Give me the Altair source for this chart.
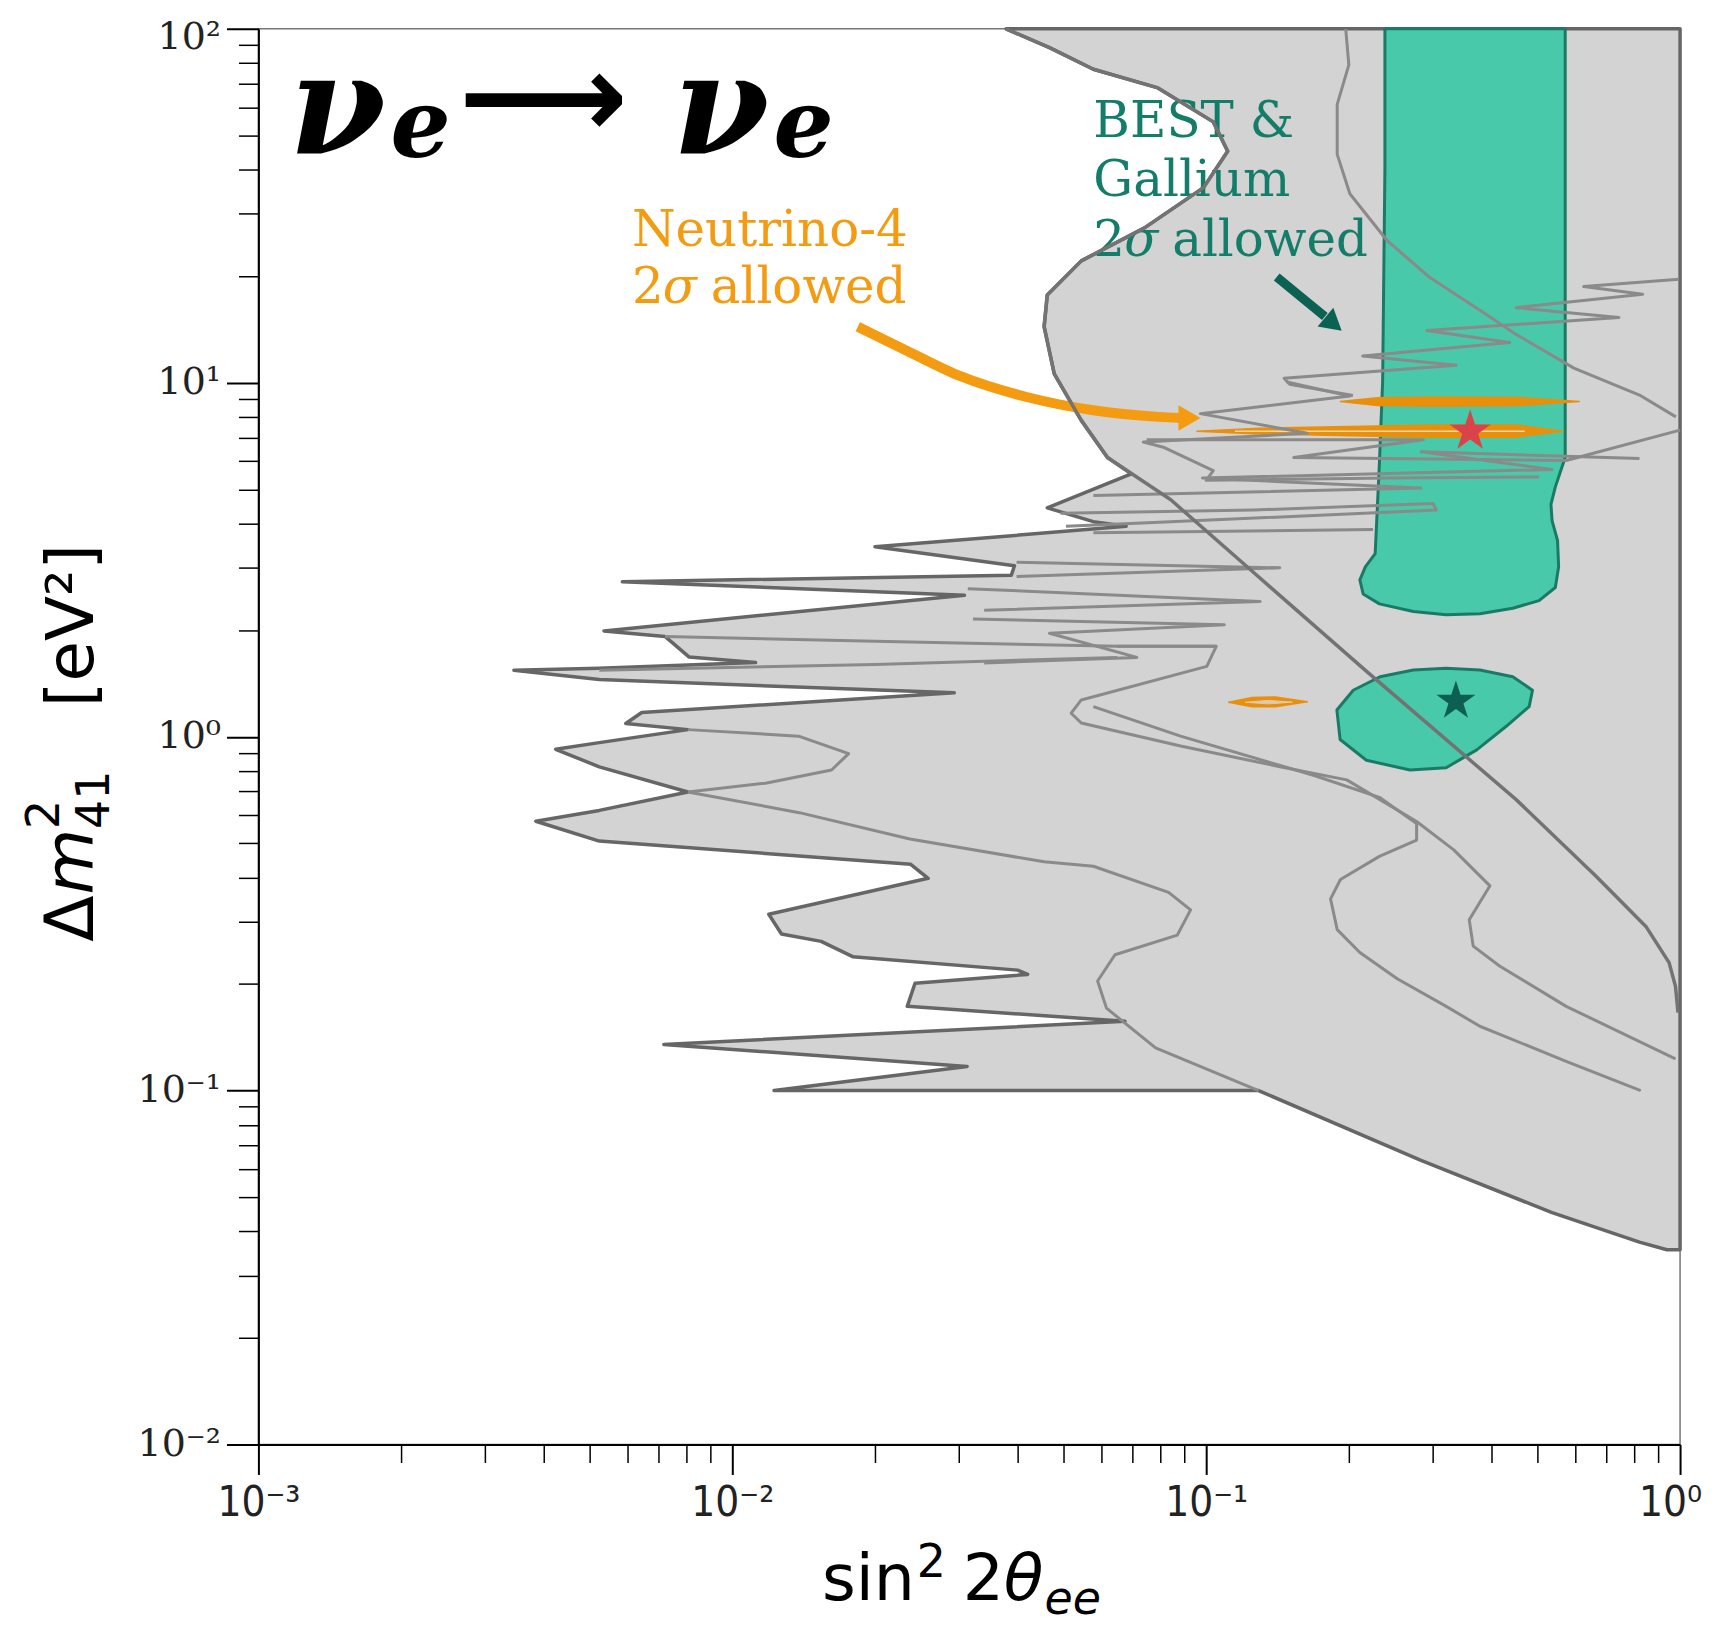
import json
import altair as alt
import pandas as pd

# ---------------- axis ticks ----------------
x_major = [0.001, 0.01, 0.1, 1.0]
x_major_labels = ["10⁻³", "10⁻²", "10⁻¹", "10⁰"]
x_minor = [0.002, 0.003, 0.004, 0.005, 0.006, 0.007, 0.008, 0.009,
           0.02, 0.03, 0.04, 0.05, 0.06, 0.07, 0.08, 0.09,
           0.2, 0.3, 0.4, 0.5, 0.6, 0.7, 0.8, 0.9]
y_major = [0.01, 0.1, 1.0, 10.0, 100.0]
y_major_labels = ["10⁻²", "10⁻¹", "10⁰", "10¹", "10²"]
y_minor = [0.02, 0.03, 0.04, 0.05, 0.06, 0.07, 0.08, 0.09,
           0.2, 0.3, 0.4, 0.5, 0.6, 0.7, 0.8, 0.9,
           2, 3, 4, 5, 6, 7, 8, 9,
           20, 30, 40, 50, 60, 70, 80, 90]

# ---------------- excluded region (outer boundary) ----------------
excl_x = [0.0378, 0.0467, 0.0578, 0.0791, 0.1035, 0.111, 0.0987, 0.0741, 0.0545, 0.0462,
          0.0455, 0.0478, 0.0545, 0.0619, 0.0695, 0.0462, 0.0578, 0.0678, 0.0200, 0.0394,
          0.0388, 0.00586, 0.0309, 0.00536, 0.00721, 0.0081, 0.0112, 0.00524, 0.00346, 0.00524,
          0.0294, 0.00644, 0.00596, 0.00806, 0.00524, 0.00424, 0.00524, 0.00806, 0.00524, 0.00385,
          0.00524, 0.0238, 0.0259, 0.01194, 0.0127, 0.0154, 0.01795, 0.0400, 0.0420, 0.0243,
          0.0234, 0.0674, 0.00717, 0.0313, 0.01225, 0.129, 0.284, 0.537, 0.821, 0.938,
          1.0, 1.0]
excl_y = [100, 88.5, 76.9, 68.1, 54.6, 45.1, 35.6, 27.4, 22.1, 17.7,
          14.4, 10.6, 7.83, 6.15, 5.53, 4.43, 4.05, 3.93, 3.44, 3.04,
          2.86, 2.74, 2.51, 1.99, 1.92, 1.68, 1.62, 1.56, 1.54, 1.45,
          1.33, 1.17, 1.09, 1.047, 0.962, 0.921, 0.822, 0.698, 0.619, 0.577,
          0.507, 0.436, 0.398, 0.315, 0.277, 0.264, 0.239, 0.219, 0.213, 0.201,
          0.173, 0.157, 0.135, 0.117, 0.1, 0.1, 0.0635, 0.0452, 0.0373, 0.0355,
          0.0355, 100]

# dark S-shaped limit curve
a_x = [0.0378, 0.0467, 0.0578, 0.0791, 0.1035, 0.111, 0.0987, 0.0741, 0.0545, 0.0462, 0.0455,
       0.0478, 0.0545, 0.0619, 0.0842, 0.122, 0.218, 0.451, 0.664, 0.847, 0.948, 0.978, 0.99]
a_y = [100, 88.5, 76.9, 68.1, 54.6, 45.1, 35.6, 27.4, 22.1, 17.7, 14.4,
       10.6, 7.83, 6.15, 4.67, 3.02, 1.53, 0.664, 0.404, 0.291, 0.230, 0.197, 0.166]

# lighter interior contours
b_x = [0.197, 0.200, 0.189, 0.189, 0.201, 0.241, 0.297, 0.379, 0.451, 0.597, 0.821, 0.980]
b_y = [100, 79.1, 61.2, 44.2, 34.2, 25.2, 19.8, 16.0, 13.7, 11.0, 9.23, 8.01]
z1_x = [0.994, 0.626, 0.834, 0.451, 0.743, 0.292, 0.437, 0.214, 0.337, 0.146, 0.150, 0.204]
z1_y = [19.6, 18.7, 17.8, 16.3, 15.3, 14.05, 13.0, 11.9, 11.2, 10.3, 9.9, 9.2]
z2_x = [0.148, 0.201, 0.0972, 0.1635, 0.0737, 0.0816, 0.1035, 0.100, 0.245, 0.504]
z2_y = [10.05, 9.17, 8.18, 7.20, 6.80, 6.56, 5.65, 5.30, 5.38, 5.42]
z3_x = [1.0, 0.575, 0.153, 0.287, 0.0749]
z3_y = [7.35, 6.03, 6.15, 6.90, 6.90]
z4_x = [0.821, 0.284, 0.537, 0.0982, 0.284, 0.0578]
z4_y = [6.11, 6.38, 5.69, 5.38, 5.04, 4.80]
z5_x = [0.0322, 0.1092, 0.0467, 0.0714, 0.034]
z5_y = [2.15, 2.07, 1.96, 1.675, 1.615]
e_x = [0.0493, 0.126, 0.301, 0.306, 0.0753, 0.0506]
e_y = [4.28, 4.37, 4.56, 4.37, 4.02, 3.93]
f_x = [0.0578, 0.225]
f_y = [3.77, 3.85]
g_x = [0.0398, 0.143, 0.0398]
g_y = [3.11, 3.00, 2.835]
h_x = [0.0314, 0.130, 0.034]
h_y = [2.62, 2.41, 2.275]
m1_x = [0.00721, 0.0200, 0.0649, 0.105]
m1_y = [1.92, 1.86, 1.80, 1.80]
m2_x = [0.00524, 0.0200, 0.0649]
m2_y = [1.54, 1.60, 1.675]
m3_x = [0.00806, 0.0138, 0.0176, 0.0162, 0.01175, 0.00806]
m3_y = [1.047, 1.0035, 0.896, 0.805, 0.739, 0.698]
l1_x = [0.00806, 0.01385, 0.0237, 0.0455, 0.0578, 0.0833, 0.0927, 0.0869, 0.0642, 0.059, 0.0616, 0.0782, 0.129]
l1_y = [0.698, 0.610, 0.514, 0.443, 0.4305, 0.363, 0.324, 0.275, 0.242, 0.204, 0.171, 0.132, 0.1]
l3_x = [0.0578, 0.0883, 0.169, 0.232, 0.278, 0.278, 0.232, 0.192, 0.183, 0.189, 0.211, 0.253, 0.321, 0.378, 0.575, 0.826]
l3_y = [1.216, 1.0035, 0.777, 0.674, 0.568, 0.5105, 0.459, 0.395, 0.348, 0.285, 0.2455, 0.207, 0.173, 0.152, 0.121, 0.100]
l5_x = [0.0649, 0.105, 0.1003, 0.0545, 0.0519, 0.0545, 0.0883, 0.1432, 0.198, 0.278, 0.333, 0.397, 0.359, 0.366, 0.416, 0.575, 0.978]
l5_y = [1.80, 1.80, 1.58, 1.27, 1.165, 1.093, 0.941, 0.8225, 0.755, 0.576, 0.479, 0.379, 0.304, 0.256, 0.225, 0.173, 0.123]

# BEST & Gallium 2 sigma allowed
band_x = [0.2383, 0.2383, 0.2357, 0.232, 0.2285, 0.2273, 0.2167, 0.211, 0.2144, 0.232, 0.2736, 0.3209,
          0.3782, 0.4436, 0.5039, 0.5455, 0.5543, 0.5514, 0.537, 0.534, 0.5455, 0.5602, 0.5723, 0.5723]
band_y = [100, 40, 10.1, 5.90, 3.82, 3.29, 3.02, 2.775, 2.53, 2.373, 2.258, 2.21,
          2.226, 2.306, 2.424, 2.64, 3.02, 3.584, 4.07, 4.53, 5.08, 5.65, 6.15, 100]
blob_x = [0.1887, 0.1917, 0.2178, 0.2693, 0.3209, 0.3723, 0.4298, 0.4803, 0.4882, 0.4436, 0.3782,
          0.3209, 0.2736, 0.2327, 0.2043]
blob_y = [1.190, 0.982, 0.858, 0.805, 0.817, 0.918, 1.070, 1.216, 1.353, 1.477, 1.543,
          1.560, 1.543, 1.477, 1.353]

# Neutrino-4 2 sigma allowed
n4a_x = [0.192, 0.23, 0.30, 0.45, 0.613, 0.45, 0.30, 0.23]
n4a_y = [8.85, 9.07, 9.12, 9.10, 8.85, 8.61, 8.58, 8.63]
n4b_x = [0.0956, 0.13, 0.2, 0.3, 0.45, 0.566, 0.45, 0.3, 0.2, 0.13]
n4b_y = [7.30, 7.44, 7.53, 7.60, 7.60, 7.30, 7.02, 7.02, 7.08, 7.17]
n4c_x = [0.1115, 0.125, 0.14, 0.1635, 0.14, 0.125]
n4c_y = [1.251, 1.29, 1.295, 1.255, 1.215, 1.215]
n4c_in_x = [0.121, 0.135, 0.152, 0.135]
n4c_in_y = [1.251, 1.266, 1.252, 1.238]
n4b_in_x = [0.115, 0.47]
n4b_in_y = [7.30, 7.30]

# best-fit points
star_x = [0.3606, 0.3365]
star_y = [7.30, 1.26]
star_col = ["#d9434a", "#0c5f52"]
star_size = [1900, 1700]

# annotation arrows
oarrow_x = [0.0184, 0.0234, 0.0305, 0.0420, 0.0578, 0.0794, 0.0883]
oarrow_y = [14.4, 12.3, 10.4, 9.10, 8.36, 8.01, 7.95]
tarrow_x = [0.1409, 0.1626, 0.1780]
tarrow_y = [19.9, 17.0, 15.4]
head_x = [0.0922, 0.1857]
head_y = [7.95, 14.66]

# texts
title_txt = ["ν", "e", "ν", "e"]
title_x = [0.00116, 0.0019, 0.00748, 0.01221]
title_y = [44.25, 43.4, 44.25, 43.4]
title_size = [140, 95, 140, 95]
n4_lines = ["Neutrino-4", "2", "σ", "allowed"]
best_lines = ["BEST &", "Gallium", "2", "σ", "allowed"]

# ---------------- chart ----------------
XS = alt.Scale(type="log", domain=[0.001, 1.0], nice=False)
YS = alt.Scale(type="log", domain=[0.01, 100.0], nice=False)


def xenc(axis=None):
    return alt.X("x:Q", scale=XS, axis=axis)


def yenc(axis=None):
    return alt.Y("y:Q", scale=YS, axis=axis)


def path(name, xs, ys):
    return pd.DataFrame({"id": [name] * len(xs), "i": list(range(len(xs))), "x": xs, "y": ys})


x_axis_major = alt.Axis(
    values=x_major,
    labelExpr=json.dumps(x_major_labels, ensure_ascii=False) + "[round(log(datum.value)/LN10) + 3]",
    orient="bottom", tickSize=30, tickWidth=2, tickColor="black", domainColor="black", domainWidth=2,
    labelFont="DejaVu Sans Condensed, DejaVu Sans", labelFontSize=42, labelColor="#222222",
    labelPadding=8, labelFlush=False, labelOverlap=False, grid=False, title=None,
    labelOffset={"condition": {"test": "datum.value >= 0.99", "value": -10}, "value": 0})
x_axis_minor = alt.Axis(values=x_minor, labels=False, orient="bottom", tickSize=18, tickWidth=1.5,
                        tickColor="black", domain=False, grid=False, title=None)
y_axis_major = alt.Axis(
    values=y_major,
    labelExpr=json.dumps(y_major_labels, ensure_ascii=False) + "[round(log(datum.value)/LN10) + 2]",
    orient="left", tickSize=32, tickWidth=2, tickColor="black", domainColor="black", domainWidth=2,
    labelFont="DejaVu Serif", labelFontSize=38, labelColor="#222222", labelPadding=6,
    labelBaseline="middle", labelFlush=False, labelOverlap=False, grid=False, title=None,
    labelOffset={"condition": {"test": "datum.value >= 99", "value": 9}, "value": 0})
y_axis_minor = alt.Axis(values=y_minor, labels=False, orient="left", tickSize=20, tickWidth=1.5,
                        tickColor="black", domain=False, grid=False, title=None)

layers = []

layers.append(
    alt.Chart(path("excl", excl_x, excl_y)).mark_line(
        fill="#d3d3d3", stroke="#666666", strokeWidth=3.5, interpolate="linear-closed", strokeJoin="round"
    ).encode(x=xenc(x_axis_major), y=yenc(y_axis_major), order="i:Q")
)
layers.append(
    alt.Chart(pd.DataFrame({"x": [0.001], "y": [0.01]})).mark_point(opacity=0)
    .encode(x=xenc(x_axis_minor), y=yenc(y_axis_minor))
)
teal_df = pd.concat([path("band", band_x, band_y), path("blob", blob_x, blob_y)])
layers.append(
    alt.Chart(teal_df).mark_line(
        fill="#48c9a9", stroke="#1b7a66", strokeWidth=3, interpolate="linear-closed", strokeJoin="round"
    ).encode(x=xenc(), y=yenc(), order="i:Q", detail="id:N")
)
orange_df = pd.concat([path("a", n4a_x, n4a_y), path("b", n4b_x, n4b_y), path("c", n4c_x, n4c_y)])
layers.append(
    alt.Chart(orange_df).mark_line(
        fill="#e8900c", stroke="#e8900c", strokeWidth=1.5, interpolate="linear-closed", strokeJoin="round"
    ).encode(x=xenc(), y=yenc(), order="i:Q", detail="id:N")
)
layers.append(
    alt.Chart(path("ci", n4c_in_x, n4c_in_y)).mark_line(
        fill="#dccbb0", stroke="#dccbb0", strokeWidth=1, interpolate="linear-closed"
    ).encode(x=xenc(), y=yenc(), order="i:Q")
)
layers.append(
    alt.Chart(path("bi", n4b_in_x, n4b_in_y)).mark_line(stroke="#f3d7a6", strokeWidth=1.5)
    .encode(x=xenc(), y=yenc(), order="i:Q")
)
contour_df = pd.concat([
    path("b", b_x, b_y), path("z1", z1_x, z1_y), path("z2", z2_x, z2_y), path("z3", z3_x, z3_y),
    path("z4", z4_x, z4_y), path("z5", z5_x, z5_y),
    path("e", e_x, e_y), path("f", f_x, f_y), path("g", g_x, g_y), path("h", h_x, h_y),
    path("m1", m1_x, m1_y), path("m2", m2_x, m2_y), path("m3", m3_x, m3_y),
    path("l1", l1_x, l1_y), path("l3", l3_x, l3_y), path("l5", l5_x, l5_y),
])
layers.append(
    alt.Chart(contour_df).mark_line(stroke="#8a8a8a", strokeWidth=3, strokeJoin="round")
    .encode(x=xenc(), y=yenc(), order="i:Q", detail="id:N")
)

STAR = ("M0,-1L0.2245,-0.309L0.9511,-0.309L0.3633,0.118L0.5878,0.809L0,0.382"
        "L-0.5878,0.809L-0.3633,0.118L-0.9511,-0.309L-0.2245,-0.309Z")

# arrows
layers.append(
    alt.Chart(path("oa", oarrow_x, oarrow_y)).mark_line(
        stroke="#f39c12", strokeWidth=10, interpolate="monotone", strokeCap="butt")
    .encode(x=xenc(), y=yenc(), order="i:Q")
)
layers.append(
    alt.Chart(path("ta", tarrow_x, tarrow_y)).mark_line(
        stroke="#0b6152", strokeWidth=9, strokeCap="butt")
    .encode(x=xenc(), y=yenc(), order="i:Q")
)
layers.append(
    alt.Chart(pd.DataFrame({"x": [head_x[0]], "y": [head_y[0]]}))
    .mark_point(shape="triangle-right", filled=True, size=650, color="#f39c12", opacity=1)
    .encode(x=xenc(), y=yenc())
)
layers.append(
    alt.Chart(pd.DataFrame({"x": [head_x[1]], "y": [head_y[1]]}))
    .mark_point(shape="triangle-right", filled=True, size=600, color="#0b6152", opacity=1, angle=40)
    .encode(x=xenc(), y=yenc())
)

# title nu_e -> nu_e
layers.append(
    alt.Chart(pd.DataFrame({"x": title_x, "y": title_y, "t": title_txt, "s": title_size}))
    .mark_text(font="DejaVu Serif", fontStyle="italic", fontWeight="bold", align="left",
               baseline="alphabetic", color="black")
    .encode(x=xenc(), y=yenc(), text="t:N", size=alt.Size("s:Q", scale=None, legend=None))
)
layers.append(
    alt.Chart(pd.DataFrame({"x": [0.00265], "y": [62.0], "t": ["⟶"]}))
    .mark_text(font="DejaVu Sans", fontSize=118, fontWeight="bold", align="left", baseline="middle",
               color="black")
    .encode(x=xenc(), y=yenc(), text="t:N")
)


def label(t, x, y, color, dx=0, italic=False):
    return (alt.Chart(pd.DataFrame({"x": [x], "y": [y], "t": [t]}))
            .mark_text(font="DejaVu Serif", fontSize=50, align="left", baseline="alphabetic",
                       color=color, dx=dx, fontStyle="italic" if italic else "normal")
            .encode(x=xenc(), y=yenc(), text="t:N"))


ORANGE = "#f39c12"
TEAL = "#147d69"
layers += [
    label(n4_lines[0], 0.00614, 24.3, ORANGE),
    label(n4_lines[1], 0.00614, 16.8, ORANGE),
    label(n4_lines[2], 0.00614, 16.8, ORANGE, dx=31, italic=True),
    label(n4_lines[3], 0.00614, 16.8, ORANGE, dx=79),
    label(best_lines[0], 0.0578, 49.4, TEAL),
    label(best_lines[1], 0.0578, 33.7, TEAL),
    label(best_lines[2], 0.0578, 22.8, TEAL),
    label(best_lines[3], 0.0578, 22.8, TEAL, dx=31, italic=True),
    label(best_lines[4], 0.0578, 22.8, TEAL, dx=79),
]

# dark limit curve drawn over the annotation text, as in the original
layers.append(
    alt.Chart(path("a", a_x, a_y)).mark_line(stroke="#737373", strokeWidth=3.5, strokeJoin="round")
    .encode(x=xenc(), y=yenc(), order="i:Q")
)
layers.append(
    alt.Chart(pd.DataFrame({"x": star_x, "y": star_y, "c": star_col, "s": star_size}))
    .mark_point(shape=STAR, filled=True, opacity=1)
    .encode(x=xenc(), y=yenc(), color=alt.Color("c:N", scale=None),
            size=alt.Size("s:Q", scale=None, legend=None))
)


def piece(t, px, py, size, italic=False, angle=0):
    return (alt.Chart(pd.DataFrame({"t": [t]}))
            .mark_text(font="DejaVu Sans", fontSize=size, align="left", baseline="alphabetic",
                       color="black", angle=angle, fontStyle="italic" if italic else "normal")
            .encode(x=alt.value(px), y=alt.value(py), text="t:N"))


# x axis title: sin^2 2theta_ee
layers += [
    piece("sin", 565, 1575, 65),
    piece("2", 660, 1552, 46),
    piece("2", 706, 1575, 65),
    piece("θ", 747, 1575, 65, italic=True),
    piece("ee", 788, 1589, 46, italic=True),
]
# y axis title: Delta m^2_41 [eV^2]
layers += [
    piece("Δ", -166, 915, 68, angle=270),
    piece("m", -166, 868, 68, italic=True, angle=270),
    piece("2", -200, 802, 46, angle=270),
    piece("41", -150, 802, 46, angle=270),
    piece("[eV²]", -166, 680, 66, angle=270),
]

chart = (
    alt.layer(*layers)
    .resolve_axis(x="independent", y="independent")
    .properties(width=1425, height=1419, autosize=alt.AutoSizeParams(type="none"),
                padding={"left": 251, "top": 19, "right": 30, "bottom": 180})
    .configure_view(stroke="#777777", strokeWidth=1.5)
)

chart.save("out.html", embed_options={"renderer": "svg", "actions": False})
